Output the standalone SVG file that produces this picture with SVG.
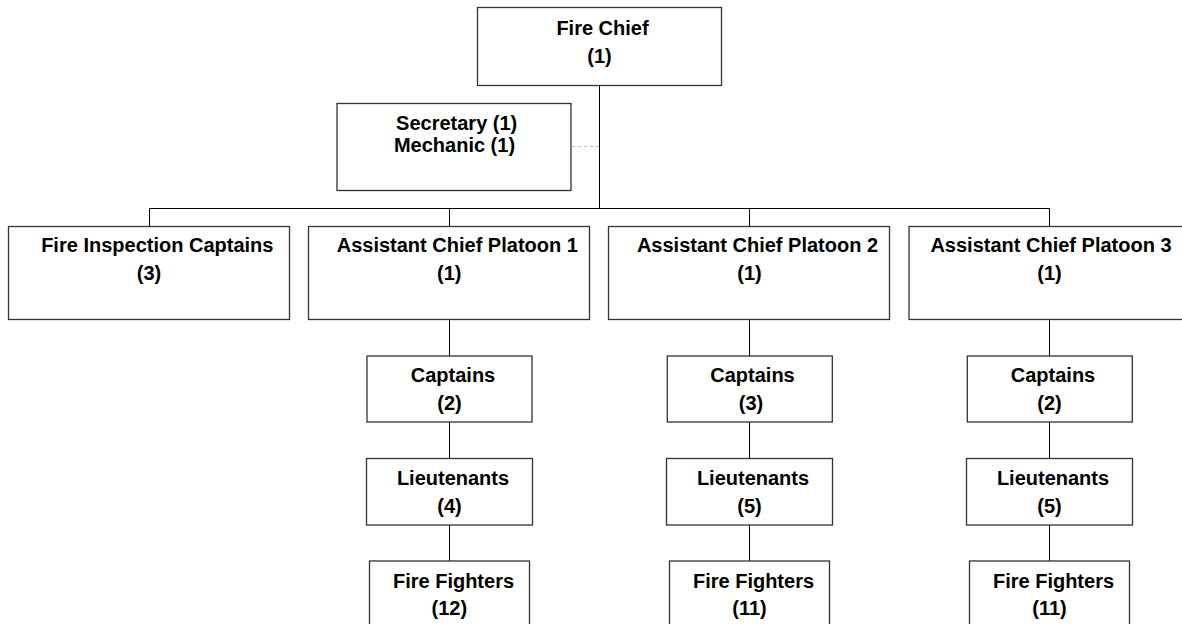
<svg xmlns="http://www.w3.org/2000/svg" width="1182" height="624" viewBox="0 0 1182 624">
<style>
.box{fill:#fff;stroke:#333;stroke-width:1.3}
.ln{stroke:#000;stroke-width:1;fill:none}
.dash{stroke:#bbb;stroke-width:1;stroke-dasharray:3 3;fill:none}
text{font-family:"Liberation Sans",Arial,Helvetica,sans-serif;font-weight:bold;font-size:20px;fill:#000;text-anchor:middle}
</style>
<rect x="0" y="0" width="1182" height="624" fill="#fff"/>
<g id="connectors">
<path class="ln" d="M599.5 85.5V208.5M149.5 208.5H1049.5M149.5 208.5V226.5M449.5 208.5V226.5M749.5 208.5V226.5M1049.5 208.5V226.5"/>
<path class="ln" d="M449.5 319.5V356M449.5 422V458.5M449.5 525V561"/>
<path class="ln" d="M749.5 319.5V356M749.5 422V458.5M749.5 525V561"/>
<path class="ln" d="M1049.5 319.5V356M1049.5 422V458.5M1049.5 525V561"/>
<path class="dash" d="M572 146.5H599"/>
</g>
<g id="fire-chief">
<rect class="box" x="477.5" y="7.5" width="244" height="78"/>
<text x="602.5" y="34.5">Fire Chief</text>
<text x="599.5" y="62.5">(1)</text>
</g>
<g id="secretary">
<rect class="box" x="337" y="103.5" width="234" height="87"/>
<text x="456.7" y="130">Secretary (1)</text>
<text x="454.5" y="151.5">Mechanic (1)</text>
</g>
<g id="fire-inspection">
<rect class="box" x="8.5" y="226.5" width="281" height="93"/>
<text x="157.3" y="251.7">Fire Inspection Captains</text>
<text x="149" y="280">(3)</text>
</g>
<g id="ac-platoon-1">
<rect class="box" x="308.5" y="226.5" width="281" height="93"/>
<text x="457.3" y="251.7">Assistant Chief Platoon 1</text>
<text x="449.3" y="280">(1)</text>
</g>
<g id="ac-platoon-2">
<rect class="box" x="608.5" y="226.5" width="281" height="93"/>
<text x="757.5" y="251.7">Assistant Chief Platoon 2</text>
<text x="749.5" y="280">(1)</text>
</g>
<g id="ac-platoon-3">
<rect class="box" x="909" y="226.5" width="281" height="93"/>
<text x="1051" y="251.7">Assistant Chief Platoon 3</text>
<text x="1049.5" y="280">(1)</text>
</g>
<g id="captains-1">
<rect class="box" x="367" y="356" width="165" height="66"/>
<text x="453" y="381.7">Captains</text>
<text x="449.5" y="410">(2)</text>
</g>
<g id="lieutenants-1">
<rect class="box" x="366.5" y="458.5" width="166" height="66.5"/>
<text x="453" y="485">Lieutenants</text>
<text x="449.5" y="512.7">(4)</text>
</g>
<g id="firefighters-1">
<rect class="box" x="369.5" y="561" width="160" height="80"/>
<text x="453.5" y="588.3">Fire Fighters</text>
<text x="449.3" y="615">(12)</text>
</g>
<g id="captains-2">
<rect class="box" x="667.3" y="356" width="165" height="66"/>
<text x="752.5" y="381.7">Captains</text>
<text x="751" y="410">(3)</text>
</g>
<g id="lieutenants-2">
<rect class="box" x="666.5" y="458.5" width="166" height="66.5"/>
<text x="753" y="485">Lieutenants</text>
<text x="749.5" y="512.7">(5)</text>
</g>
<g id="firefighters-2">
<rect class="box" x="669.5" y="561" width="160" height="80"/>
<text x="753.5" y="588.3">Fire Fighters</text>
<text x="749.5" y="615">(11)</text>
</g>
<g id="captains-3">
<rect class="box" x="967.3" y="356" width="165" height="66"/>
<text x="1053" y="381.7">Captains</text>
<text x="1049.5" y="410">(2)</text>
</g>
<g id="lieutenants-3">
<rect class="box" x="966.5" y="458.5" width="166" height="66.5"/>
<text x="1053" y="485">Lieutenants</text>
<text x="1049.5" y="512.7">(5)</text>
</g>
<g id="firefighters-3">
<rect class="box" x="969.5" y="561" width="160" height="80"/>
<text x="1053.5" y="588.3">Fire Fighters</text>
<text x="1049.5" y="615">(11)</text>
</g>
</svg>
